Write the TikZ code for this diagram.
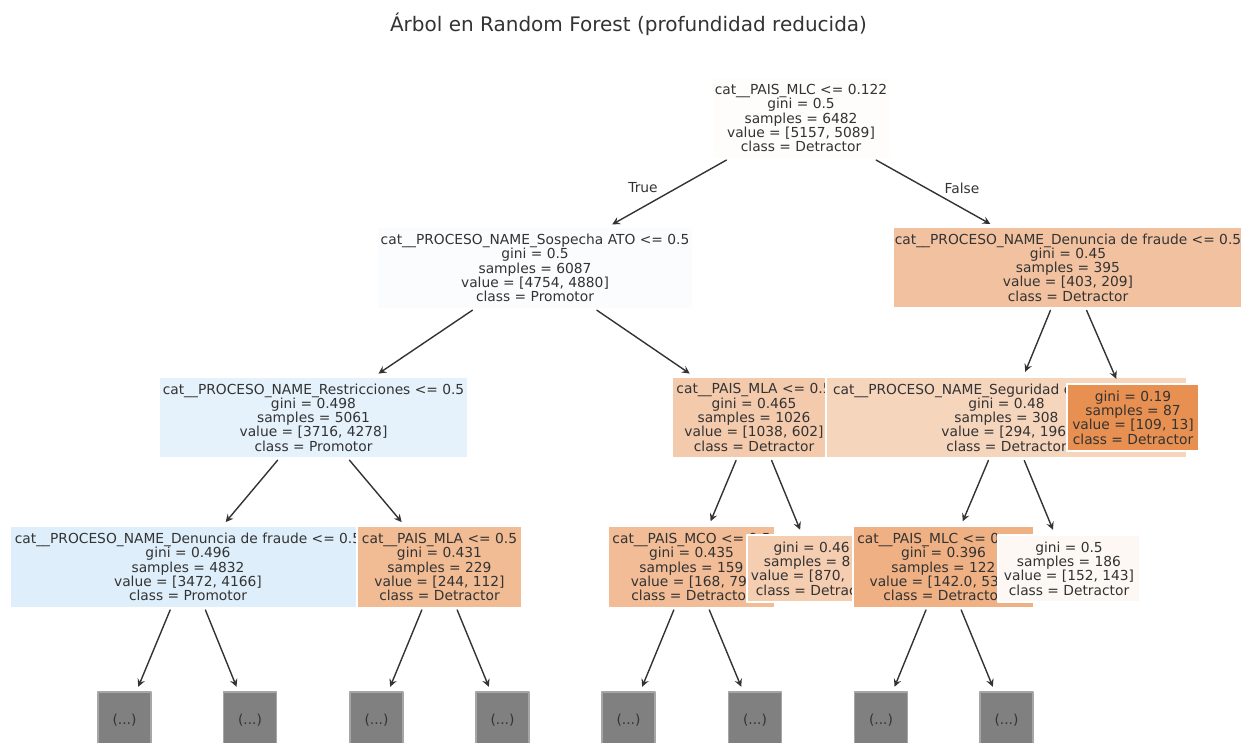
\documentclass[tikz,border=0pt]{standalone}
\usepackage{fontspec}
\setmainfont{DejaVu Sans}
\definecolor{cRaiz}{RGB}{254,253,252}
\definecolor{cSosp}{RGB}{250,252,254}
\definecolor{cDenA}{RGB}{242,194,160}
\definecolor{cRest}{RGB}{229,242,252}
\definecolor{cMlaA}{RGB}{244,202,172}
\definecolor{cSeg}{RGB}{246,213,189}
\definecolor{cHojaA}{RGB}{232,144,81}
\definecolor{cDenB}{RGB}{222,239,251}
\definecolor{cMlaB}{RGB}{241,187,148}
\definecolor{cMco}{RGB}{241,188,150}
\definecolor{cHojaB}{RGB}{245,205,176}
\definecolor{cMlc}{RGB}{239,176,131}
\definecolor{cHojaC}{RGB}{253,248,243}
\newcommand\nodefont{\fontsize{6.9}{7.15}\selectfont}
\tikzset{
  tnode/.style={rectangle, draw=white, line width=0.6pt, inner sep=0pt, align=center, text=black!80, font=\nodefont},
  split/.style={tnode, minimum height=40.5pt},
  hoja/.style={tnode, minimum height=33.5pt},
  oculto/.style={tnode, fill=gray, draw=gray!70!white, minimum width=26.5pt, minimum height=28pt},
  arr/.style={->, draw=black!80, line width=0.7pt, shorten >=2.5pt, shorten <=1pt}
}
\begin{document}
\begin{tikzpicture}[x=0.5pt, y=-0.5pt, >=stealth, line join=round, line cap=round]
 \useasboundingbox (0,0) rectangle (1241,743);
 \clip (0,0) rectangle (1241,743);
 \node[font=\fontsize{10}{12}\selectfont, text=black!80] (titulo) at (628.5,24) {Árbol en Random Forest (profundidad reducida)};
 % nivel 0 y 1
 \node[split, fill=cRaiz, minimum width=89pt] (raiz) at (801,118) {cat\_\_PAIS\_MLC <= 0.122\\gini = 0.5\\samples = 6482\\value = [5157, 5089]\\class = Detractor};
 \node[split, fill=cSosp, minimum width=158pt] (sosp) at (535,268) {cat\_\_PROCESO\_NAME\_Sospecha ATO <= 0.5\\gini = 0.5\\samples = 6087\\value = [4754, 4880]\\class = Promotor};
 \node[split, fill=cRest, minimum width=154.5pt] (rest) at (313.5,417.5) {cat\_\_PROCESO\_NAME\_Restricciones <= 0.5\\gini = 0.498\\samples = 5061\\value = [3716, 4278]\\class = Promotor};
 \node[split, fill=cDenB, minimum width=178pt] (denB) at (188,567) {cat\_\_PROCESO\_NAME\_Denuncia de fraude <= 0.5\\gini = 0.496\\samples = 4832\\value = [3472, 4166]\\class = Promotor};
 \node[oculto] (g1) at (124.5,720) {(...)};
 \node[oculto] (g2) at (250,720) {(...)};
 \node[split, fill=cMlaB, minimum width=82.5pt] (mlaB) at (439.5,567) {cat\_\_PAIS\_MLA <= 0.5\\gini = 0.431\\samples = 229\\value = [244, 112]\\class = Detractor};
 \node[oculto] (g3) at (376.5,720) {(...)};
 \node[oculto] (g4) at (502.5,720) {(...)};
 \node[split, fill=cMlaA, minimum width=82pt] (mlaA) at (754,417.5) {cat\_\_PAIS\_MLA <= 0.5\\gini = 0.465\\samples = 1026\\value = [1038, 602]\\class = Detractor};
 \node[split, fill=cMco, minimum width=83.5pt] (mco) at (691.5,567) {cat\_\_PAIS\_MCO <= 0.5\\gini = 0.435\\samples = 159\\value = [168, 79]\\class = Detractor};
 \node[oculto] (g5) at (628.5,720) {(...)};
 \node[oculto] (g6) at (755,720) {(...)};
 \node[hoja, fill=cHojaB, minimum width=69pt] (hojaB) at (816,568.5) {gini = 0.46\phantom{0}\\samples = 8\phantom{00}\\value = [870, \phantom{000]}\\class = Detractor};
 % rama derecha
 \node[split, fill=cDenA, minimum width=175pt] (denA) at (1068,267.5) {cat\_\_PROCESO\_NAME\_Denuncia de fraude <= 0.5\\gini = 0.45\\samples = 395\\value = [403, 209]\\class = Detractor};
 \node[split, fill=cSeg, minimum width=180.5pt] (seg) at (1006.5,417.5) {\makebox[173.5pt][l]{cat\_\_PROCESO\_NAME\_Seguridad c}\\gini = 0.48\\samples = 308\\value = [294, 196]\\class = Detractor};
 \node[split, fill=cMlc, minimum width=90.5pt] (mlc) at (943.5,567) {cat\_\_PAIS\_MLC <= 0\phantom{.000}\\gini = 0.396\\samples = 122\\value = [142.0, 53\phantom{.0]}\\class = Detractor};
 \node[oculto] (g7) at (881,720) {(...)};
 \node[oculto] (g8) at (1006.5,720) {(...)};
 \node[hoja, fill=cHojaC, minimum width=71pt] (hojaC) at (1069,568.5) {gini = 0.5\\samples = 186\\value = [152, 143]\\class = Detractor};
 \node[hoja, fill=cHojaA, minimum width=66pt] (hojaA) at (1133,417.5) {gini = 0.19\\samples = 87\\value = [109, 13]\\class = Detractor};
 % flechas
 \draw[arr] (raiz) -- (sosp);
 \draw[arr] (raiz) -- (denA);
 \draw[arr] (sosp) -- (rest);
 \draw[arr] (sosp) -- (mlaA);
 \draw[arr] (rest) -- (denB);
 \draw[arr] (rest) -- (mlaB);
 \draw[arr] (mlaA) -- (mco);
 \draw[arr] (mlaA) -- (hojaB);
 \draw[arr] (denA) -- (seg);
 \draw[arr] (denA) -- (hojaA);
 \draw[arr] (seg) -- (mlc);
 \draw[arr] (seg) -- (hojaC);
 \foreach \p/\a/\b in {denB/g1/g2, mlaB/g3/g4, mco/g5/g6, mlc/g7/g8}{
  \draw[arr] (\p) -- (\a);
  \draw[arr] (\p) -- (\b);
 }
 \node[font=\nodefont, text=black!80] (verdad) at (643,188) {True};
 \node[font=\nodefont, text=black!80] (falso) at (962,188) {False};
\end{tikzpicture}
\end{document}
